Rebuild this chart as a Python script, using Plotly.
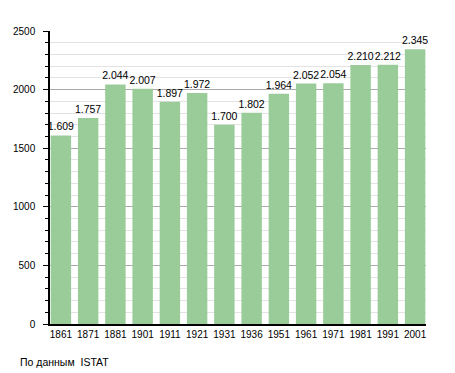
import plotly.graph_objects as go

years = ["1861", "1871", "1881", "1901", "1911", "1921", "1931", "1936",
         "1951", "1961", "1971", "1981", "1991", "2001"]
population = [1609, 1757, 2044, 2007, 1897, 1972, 1700, 1802,
              1964, 2052, 2054, 2210, 2212, 2345]
labels = [f"{v:,}".replace(",", ".") for v in population]
y_ticks = [0, 500, 1000, 1500, 2000, 2500]
source_note = "По данным  ISTAT"

FONT = "Liberation Sans, Arial, sans-serif"

fig = go.Figure(go.Bar(
    x=list(range(len(years))),
    y=population,
    text=labels,
    textposition="outside",
    constraintext="none",
    cliponaxis=False,
    textfont=dict(size=10.5, color="#000000", family=FONT),
    marker=dict(color="#99cc99", line=dict(width=0)),
    hoverinfo="skip",
))

fig.update_layout(
    width=447, height=365,
    margin=dict(l=42, r=29, t=23, b=49),
    paper_bgcolor="white", plot_bgcolor="white",
    bargap=0.25,
    showlegend=False,
    font=dict(family=FONT, size=10.5, color="#000000"),
    xaxis=dict(
        tickmode="array",
        tickvals=list(range(len(years))),
        ticktext=years,
        range=[-0.4, 13.4],
        showgrid=False,
        showline=True, linecolor="#000000", linewidth=1.5,
        ticks="", zeroline=False, automargin=False,
        tickfont=dict(size=10),
    ),
    yaxis=dict(
        range=[0, 2500],
        tickvals=y_ticks,
        showgrid=True, gridcolor="#aaaaaa", gridwidth=1,
        showline=True, linecolor="#000000", linewidth=1.5,
        ticks="outside", ticklen=5, tickcolor="#000000",
        ticklabelstandoff=6,
        zeroline=False, automargin=False,
        tickfont=dict(size=10),
        minor=dict(dtick=100, showgrid=True, gridcolor="#e3e3e3",
                   ticks="outside", ticklen=3, tickcolor="#000000"),
    ),
    annotations=[dict(
        text=source_note, xref="paper", yref="paper",
        x=-32/376, y=-38/293, xanchor="left", yanchor="middle",
        showarrow=False, font=dict(size=10.5, family=FONT),
    )],
)

fig.write_html("out.html")
